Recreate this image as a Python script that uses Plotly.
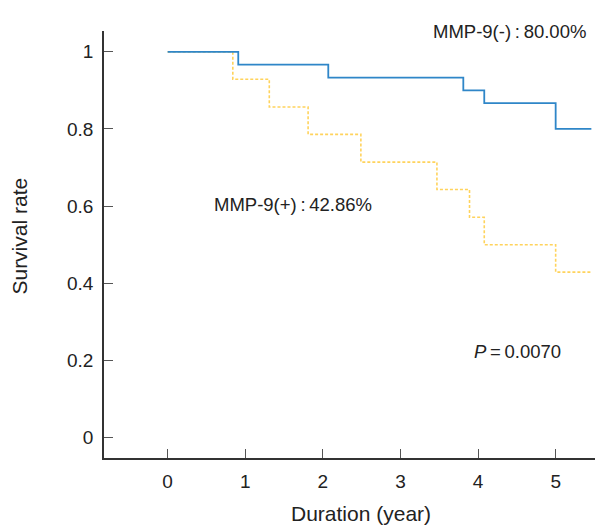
import plotly.graph_objects as go

# Kaplan-Meier step data
neg_time = [0, 0.91, 2.07, 3.81, 4.08, 5.0, 5.46]
neg_surv = [1.0, 0.967, 0.933, 0.9, 0.867, 0.8, 0.8]

pos_time = [0, 0.84, 1.31, 1.81, 2.49, 3.47, 3.89, 4.08, 5.0, 5.46]
pos_surv = [1.0, 0.929, 0.857, 0.786, 0.714, 0.643, 0.571, 0.5, 0.429, 0.429]

x_ticks = [0, 1, 2, 3, 4, 5]
y_ticks = [0, 0.2, 0.4, 0.6, 0.8, 1]
y_tick_labels = ["0", "0.2", "0.4", "0.6", "0.8", "1"]

label_neg = "MMP-9(-)\u2009:\u200980.00%"
label_pos = "MMP-9(+)\u2009:\u200942.86%"
label_p = "<i>P</i>\u2009=\u20090.0070"

FONT = "Liberation Sans, Arial, Helvetica, sans-serif"
TXT = "#222222"

fig = go.Figure()
fig.add_trace(go.Scatter(
    x=pos_time, y=pos_surv, mode="lines", line_shape="hv",
    line=dict(color="#FFD35C", width=1.6, dash="3px,2px"),
    showlegend=False, hoverinfo="skip"))
fig.add_trace(go.Scatter(
    x=neg_time, y=neg_surv, mode="lines", line_shape="hv",
    line=dict(color="#2F86C8", width=1.8),
    showlegend=False, hoverinfo="skip"))

fig.update_layout(
    width=595, height=518,
    margin=dict(l=96, r=0, t=23, b=68),
    paper_bgcolor="white", plot_bgcolor="white",
    font=dict(family=FONT, size=19, color=TXT),
    xaxis=dict(range=[-0.82, 5.61], tickvals=x_ticks, ticks="inside", ticklen=9,
               tickwidth=1.2, tickcolor="#555555", showline=True, linecolor="#333333",
               linewidth=1.6, showgrid=False, zeroline=False, ticklabelstandoff=5,
               tickfont=dict(size=19, color=TXT)),
    yaxis=dict(range=[-0.053, 1.054], tickvals=y_ticks, ticktext=y_tick_labels,
               ticks="inside", ticklen=9, tickwidth=1.2, tickcolor="#555555",
               showline=True, linecolor="#333333", linewidth=1.6, showgrid=False,
               zeroline=False, ticklabelstandoff=5, tickfont=dict(size=19, color=TXT)),
    annotations=[
        dict(text=label_neg, x=4.41, y=1.052, xref="x", yref="y", showarrow=False,
             xanchor="center", yanchor="middle", font=dict(size=18.5, color=TXT)),
        dict(text=label_pos, x=1.62, y=0.605, xref="x", yref="y", showarrow=False,
             xanchor="center", yanchor="middle", font=dict(size=18.5, color=TXT)),
        dict(text=label_p, x=4.51, y=0.222, xref="x", yref="y", showarrow=False,
             xanchor="center", yanchor="middle", font=dict(size=18.5, color=TXT)),
        dict(text="Survival rate", x=-0.17, y=0.519, xref="paper", yref="paper",
             showarrow=False, textangle=-90, xanchor="center", yanchor="middle",
             font=dict(size=21, color=TXT)),
        dict(text="Duration (year)", x=0.515, y=-0.131, xref="paper", yref="paper",
             showarrow=False, xanchor="center", yanchor="middle",
             font=dict(size=21, color=TXT)),
    ],
)

fig.write_html("out.html")
